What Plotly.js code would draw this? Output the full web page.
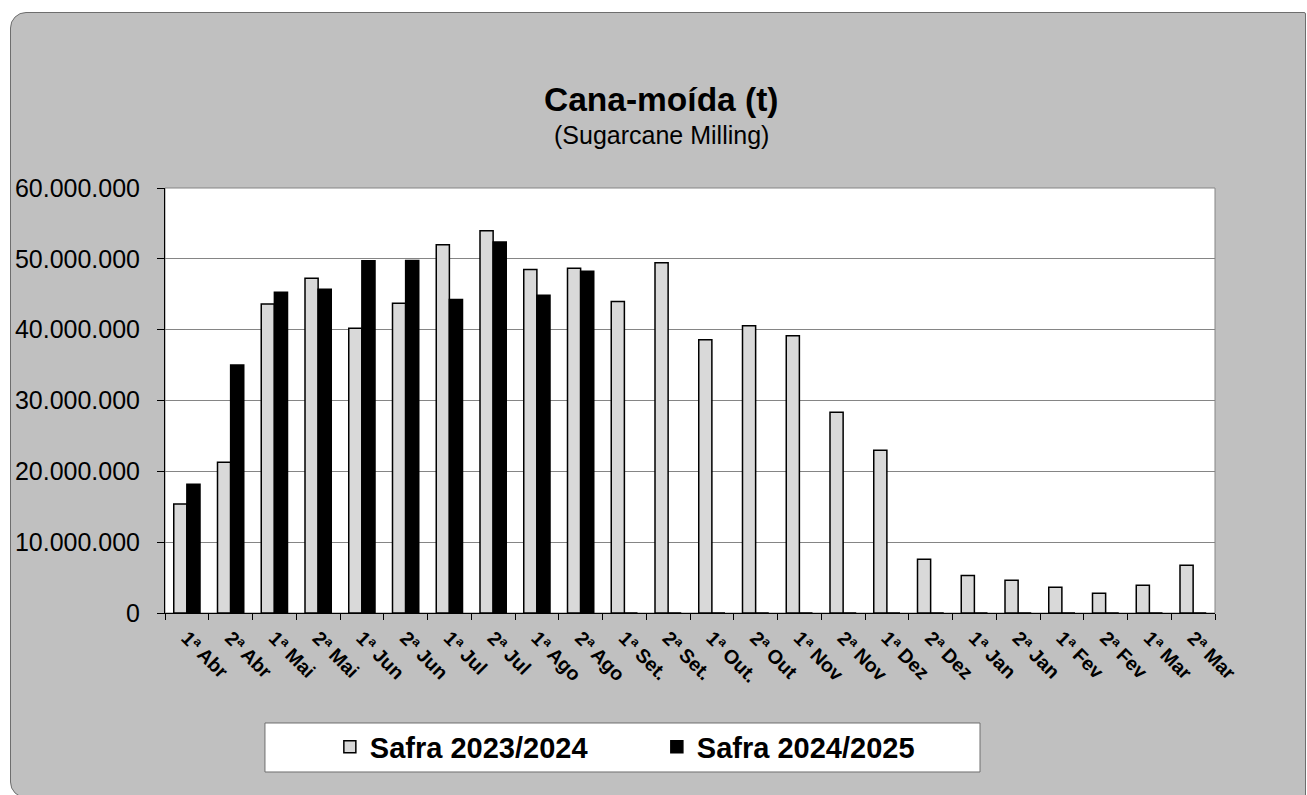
<!DOCTYPE html>
<html>
<head>
<meta charset="utf-8">
<script src="https://cdn.plot.ly/plotly-3.0.1.min.js"></script>
<style>
  html, body { margin:0; padding:0; background:#ffffff; width:1307px; height:795px; overflow:hidden; }
  #frame { position:absolute; left:10px; top:12px; width:1294px; height:784px; background:#c0c0c0;
           border:1px solid #6e6e6e; border-radius:16px 2px 2px 16px; z-index:0; }
  #chart { position:absolute; left:0; top:0; width:1307px; height:795px; z-index:1; }
</style>
</head>
<body>
<div id="frame"></div>
<div id="chart"></div>
<script>
const categories = ["1ª Abr","2ª Abr","1ª Mai","2ª Mai","1ª Jun","2ª Jun","1ª Jul","2ª Jul","1ª Ago","2ª Ago","1ª Set.","2ª Set.","1ª Out.","2ª Out","1ª Nov","2ª Nov","1ª Dez","2ª Dez","1ª Jan","2ª Jan","1ª Fev","2ª Fev","1ª Mar","2ª Mar"];
const safra2324 = [15380000, 21270000, 43630000, 47260000, 40190000, 43730000, 51980000, 53960000, 48490000, 48680000, 43960000, 49430000, 38580000, 40570000, 39150000, 28350000, 22970000, 7590000, 5280000, 4620000, 3630000, 2780000, 3920000, 6750000];
const safra2425 = [18160000, 35000000, 45280000, 45700000, 49720000, 49760000, 44250000, 52360000, 44860000, 48250000, 0, 0, 0, 0, 0, 0, 0, 0, 0, 0, 0, 0, 0, 0];
const seriesNames = ["Safra 2023/2024", "Safra 2024/2025"];
const yTickVals = [0, 10000000, 20000000, 30000000, 40000000, 50000000, 60000000];
const titleText = "Cana-moída (t)";
const subtitleText = "(Sugarcane Milling)";

const FONT = "Arial, 'Liberation Sans', sans-serif";

const traces = [
  { type:"bar", name:seriesNames[0], x:categories, y:safra2324,
    marker:{ color:"#d9d9d9", line:{ color:"#000000", width:1.5 } } },
  { type:"bar", name:seriesNames[1], x:categories, y:safra2425,
    marker:{ color:"#000000", line:{ color:"#000000", width:1.5 } } }
];

const layout = {
  width:1307, height:795,
  margin:{ l:165, r:92, t:188, b:182, pad:0 },
  paper_bgcolor:"rgba(0,0,0,0)",
  plot_bgcolor:"#ffffff",
  separators:",.",
  barmode:"group",
  bargap:0.4,
  bargroupgap:0,
  showlegend:true,
  font:{ family:FONT, color:"#000000" },
  xaxis:{
    type:"category",
    tickangle:45,
    tickson:"boundaries",
    ticks:"outside", ticklen:6, tickcolor:"#000000", tickwidth:1,
    showline:true, linecolor:"#000000", linewidth:1,
    showgrid:false, zeroline:false,
    tickfont:{ family:FONT, size:19.5, color:"#000000", weight:"bold" },
    ticklabelstandoff:5,
    automargin:false
  },
  yaxis:{
    range:[0, 60000000],
    tickvals:yTickVals,
    tickformat:",.0f",
    ticks:"outside", ticklen:7, tickcolor:"#000000", tickwidth:1,
    showline:true, linecolor:"#000000", linewidth:1,
    showgrid:true, gridcolor:"#858585", gridwidth:1,
    zeroline:false,
    tickfont:{ family:FONT, size:25, color:"#000000" },
    ticklabelstandoff:12,
    automargin:false
  },
  legend:{
    orientation:"h",
    x:0.157, xanchor:"left",
    y:-0.3153, yanchor:"middle",
    bgcolor:"rgba(0,0,0,0)",
    borderwidth:0,
    entrywidth:282,
    font:{ family:FONT, size:29, color:"#000000", weight:"bold" },
    traceorder:"normal"
  },
  shapes:[
    { type:"rect", xref:"paper", yref:"paper", x0:0, x1:1, y0:0, y1:1,
      line:{ color:"#858585", width:1 }, fillcolor:"rgba(0,0,0,0)", layer:"below" },
    { type:"rect", xref:"paper", yref:"paper", x0:0.0952, x1:0.7762, y0:-0.3741, y1:-0.2588,
      line:{ color:"#6e6e6e", width:1 }, fillcolor:"#ffffff", layer:"below" }
  ],
  annotations:[
    { text:titleText, xref:"paper", yref:"paper", x:0.4724, y:1.2094, xanchor:"center", yanchor:"middle",
      showarrow:false, font:{ family:FONT, size:33.5, color:"#000000", weight:"bold" } },
    { text:subtitleText, xref:"paper", yref:"paper", x:0.4724, y:1.1247, xanchor:"center", yanchor:"middle",
      showarrow:false, font:{ family:FONT, size:25, color:"#000000" } }
  ]
};

Plotly.newPlot("chart", traces, layout, { staticPlot:true, displayModeBar:false });
</script>
</body>
</html>
